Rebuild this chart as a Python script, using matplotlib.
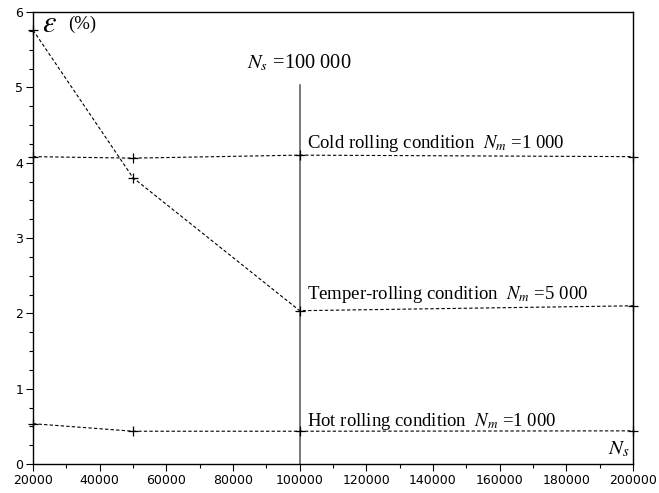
import numpy as np
import matplotlib
matplotlib.use("Agg")
import matplotlib.pyplot as plt
from matplotlib.ticker import MultipleLocator

plt.rcParams['mathtext.fontset'] = 'stix'

# strain vs. number of samples for the three rolling conditions
ns_values = [20000, 50000, 100000, 200000]
eps_cold = [4.08, 4.06, 4.10, 4.08]
eps_temper = [5.76, 3.80, 2.035, 2.10]
eps_hot = [0.535, 0.435, 0.435, 0.44]

ns_chosen = 100000
eps_chosen_top = 5.03

labels = {
    "cold": r"Cold rolling condition  $N_m$ =1 000",
    "temper": r"Temper-rolling condition  $N_m$ =5 000",
    "hot": r"Hot rolling condition  $N_m$ =1 000",
}

fig = plt.figure(figsize=(6.59, 4.93), dpi=100)
ax = fig.add_axes([33 / 659, 29 / 493, 600 / 659, 452 / 493])

serif = "Liberation Serif"
dash = (0, (3, 2))
for eps in (eps_cold, eps_temper, eps_hot):
    ax.plot(ns_values, eps, color="black", lw=0.8, ls=dash, marker="+",
            markersize=7, markeredgewidth=0.9, clip_on=False, zorder=3)

ax.plot([ns_chosen, ns_chosen], [0, eps_chosen_top], color="#555555", lw=1.1, zorder=2)

ax.text(102200, 4.25, labels["cold"], family=serif, fontsize=13.5, va="center")
ax.text(102200, 2.25, labels["temper"], family=serif, fontsize=13.5, va="center")
ax.text(102200, 0.57, labels["hot"], family=serif, fontsize=13.5, va="center")
ax.text(ns_chosen, 5.32, r"$N_s$ =100 000", family=serif, fontsize=14.7,
        va="center", ha="center")
ax.text(22600, 5.84, r"$\varepsilon$", family=serif, fontsize=22, va="center")
ax.text(30600, 5.84, "(%)", family=serif, fontsize=13.5, va="center")
ax.text(199100, 0.19, r"$N_s$", family=serif, fontsize=15, va="center", ha="right")

ax.set_xlim(20000, 200000)
ax.set_ylim(0, 6)
ax.xaxis.set_major_locator(MultipleLocator(20000))
ax.xaxis.set_minor_locator(MultipleLocator(10000))
ax.yaxis.set_major_locator(MultipleLocator(1))
ax.yaxis.set_minor_locator(MultipleLocator(0.25))
ax.tick_params(which="major", length=5, width=0.8, labelsize=9, pad=2)
ax.tick_params(which="minor", length=3, width=0.8)
for s in ax.spines.values():
    s.set_linewidth(1.0)

fig.savefig("out.png", dpi=100)
